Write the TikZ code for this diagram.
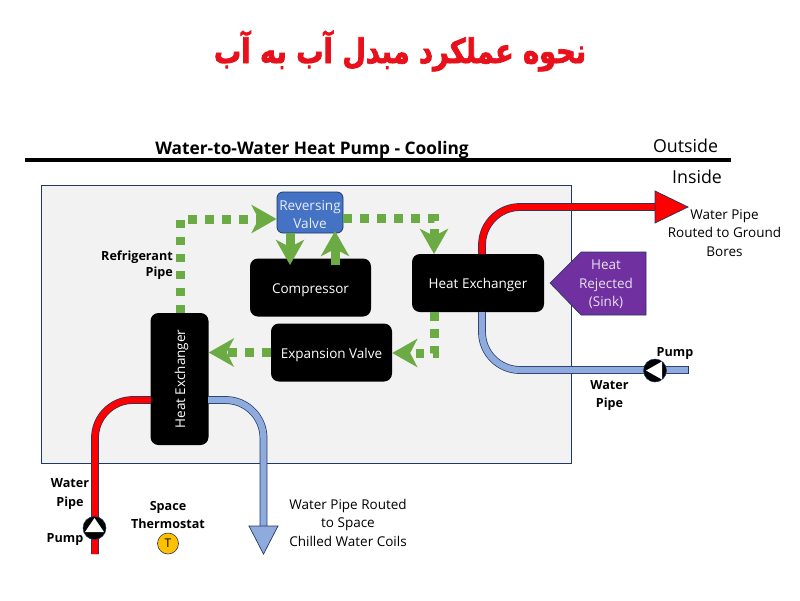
\documentclass[tikz,border=0pt]{standalone}
\usepackage{fontspec}
\setmainfont{Open Sans}
\newfontfamily\arabicfont[Script=Arabic,FakeStretch=0.8,FakeBold=2.2]{DejaVu Sans Bold}
\TeXXeTstate=1
\usetikzlibrary{arrows.meta,calc}
\definecolor{navy}{HTML}{1F3864}
\definecolor{panelgray}{HTML}{F2F2F2}
\definecolor{flowgreen}{HTML}{6CAB43}
\definecolor{valveblue}{HTML}{4472C4}
\definecolor{pipeblue}{HTML}{8FAADC}
\definecolor{sinkpurple}{HTML}{7030A0}
\definecolor{thermo}{HTML}{FFC000}
\definecolor{titlered}{HTML}{E8101A}
\tikzset{
  x=1pt,y=-1pt,
  unit/.style={fill=black,text=white,rounded corners=8pt,inner sep=0pt,align=center,text height=11pt,text depth=0pt,font=\fontsize{13.5}{16}\selectfont},
  refdash/.style={draw=flowgreen,line width=9pt,dash pattern=on 8.5pt off 8.5pt},
  refarrow/.style={-{Stealth[length=25pt,width=28pt,inset=7pt]}},
  refsolid/.style={draw=flowgreen,line width=9pt},
  redpipe/.style={draw=navy,double=red,line width=.7pt,double distance=6.4pt,rounded corners=38pt},
  bluepipe/.style={draw=navy,double=pipeblue,line width=.7pt,double distance=6.4pt,rounded corners=38pt},
  pumpdisc/.style={circle,fill=black,draw=navy,line width=.5pt,minimum size=23pt,inner sep=0pt},
  lab/.style={align=center,inner sep=0pt,font=\fontsize{13.5}{18.5}\selectfont},
  blab/.style={align=center,inner sep=0pt,font=\fontsize{12.6}{18.5}\selectfont\bfseries},
}
\begin{document}
\begin{tikzpicture}
\useasboundingbox (0,0) rectangle (800,600);
\node[inner sep=0pt,text=titlered,font=\fontsize{34}{38}\selectfont\arabicfont] (title) at (400,51) {\beginR نحوه عملکرد مبدل آب به آب\endR};
\node[inner sep=0pt,font=\fontsize{17.3}{20}\selectfont\bfseries] (head) at (312,150) {Water-to-Water Heat Pump - Cooling};
\coordinate (ruleL) at (25,160); \coordinate (ruleR) at (731,160);
\draw[line width=4pt] (ruleL) -- (ruleR);
\node[inner sep=0pt,font=\fontsize{17.8}{20}\selectfont] (outside) at (685.5,146) {Outside};
\node[inner sep=0pt,font=\fontsize{17.8}{20}\selectfont] (inside) at (697,177) {Inside};
\draw[navy,fill=panelgray,line width=.8pt] (41,185) rectangle (571,463);

% units
\node[fill=valveblue,draw=navy,line width=.8pt,rounded corners=6pt,inner sep=0pt,minimum width=66pt,minimum height=41pt] (rv) at (310,212.5) {};
\node[lab,text=white!88!valveblue,font=\fontsize{13.6}{18}\selectfont] (rvtext) at (310,214.5) {Reversing\\Valve};
\node[unit,minimum width=121pt,minimum height=58pt] (comp) at (310.5,287.5) {Compressor};
\node[unit,minimum width=132pt,minimum height=58pt] (hxr) at (478,283) {Heat Exchanger};
\node[unit,minimum width=121pt,minimum height=58pt] (exp) at (331.5,352.5) {Expansion Valve};
\node[unit,minimum width=132pt,minimum height=58pt,rotate=90] (hxl) at (179.5,379) {Heat Exchanger};

% pipes
\coordinate (redR) at (655,207);
\coordinate (redRtip) at (688,207);
\draw[redpipe] (482,254) -- (482,207) -- (redR);
\draw[navy,fill=red,line width=.7pt] (655,191) -- (redRtip) -- (655,223) -- cycle;
\coordinate (blueRend) at (688,370);
\draw[bluepipe] (482,312) -- (482,370) -- (blueRend);
\draw[navy,line width=.5pt] (688,366.2) -- (688,373.8);
\coordinate (redLstart) at (95,554);
\draw[redpipe] (redLstart) -- (95,400) -- (151,400);
\coordinate (blueLbase) at (263.5,526);
\draw[bluepipe] (208,400) -- (263.5,400) -- (blueLbase);
\draw[navy,fill=pipeblue,line width=.7pt] (249,526) -- (263.5,554) -- (278,526) -- cycle;
% pumps
\node[pumpdisc] (pumpR) at (655,370.5) {};
\fill[white] (646,370.5) -- (662,361.5) -- (662,379.5) -- cycle;
\node[pumpdisc] (pumpL) at (94.5,528) {};
\fill[white] (94.5,518) -- (104,532) -- (85,532) -- cycle;

% refrigerant
\coordinate (c1) at (180,219); \coordinate (c2) at (434,218); \coordinate (c3) at (434,353);
\draw[refdash,refarrow] (180,313) -- (c1) -- (rv.west |- c1);
\draw[refdash,refarrow] (rv.east |- c2) -- (c2) -- (434,254);
\draw[refdash,refarrow] (434,312) -- (c3) -- (exp.east |- c3);
\draw[refdash,refarrow] (exp.west) -- (hxl.south |- exp.west);
\draw[refsolid,refarrow] (290,233) -- (290,265);
\draw[refsolid,refarrow] (335,265) -- (335,231);

% purple
\draw[navy,fill=sinkpurple,line width=.6pt] (550,283) -- (581,252) -- (646,252) -- (646,315) -- (581,315) -- cycle;
\node[lab,text=white!85!sinkpurple] (sink) at (606,284.5) {Heat\\Rejected\\(Sink)};

% labels
\node[lab] (gb) at (724.5,233) {Water Pipe\\Routed to Ground\\Bores};
\node[blab,align=right,anchor=east,font=\fontsize{12.6}{16.5}\selectfont\bfseries] (ref) at (173,265) {Refrigerant\\Pipe};
\node[blab] (pumpRl) at (675,354) {Pump};
\node[blab] (wpR) at (609.5,395.5) {Water\\Pipe};
\node[blab] (wpL) at (70,494) {Water\\Pipe};
\node[blab] (pumpLl) at (65,540) {Pump};
\node[blab] (st) at (168,515) {Space\\Thermostat};
\node[circle,fill=thermo,draw=navy,line width=.6pt,minimum size=21pt,inner sep=0pt,font=\fontsize{12}{14}\selectfont] (t) at (168,543.5) {T};
\node[lab] (chill) at (348,522.5) {Water Pipe Routed\\to Space\\Chilled Water Coils};
\end{tikzpicture}
\end{document}
